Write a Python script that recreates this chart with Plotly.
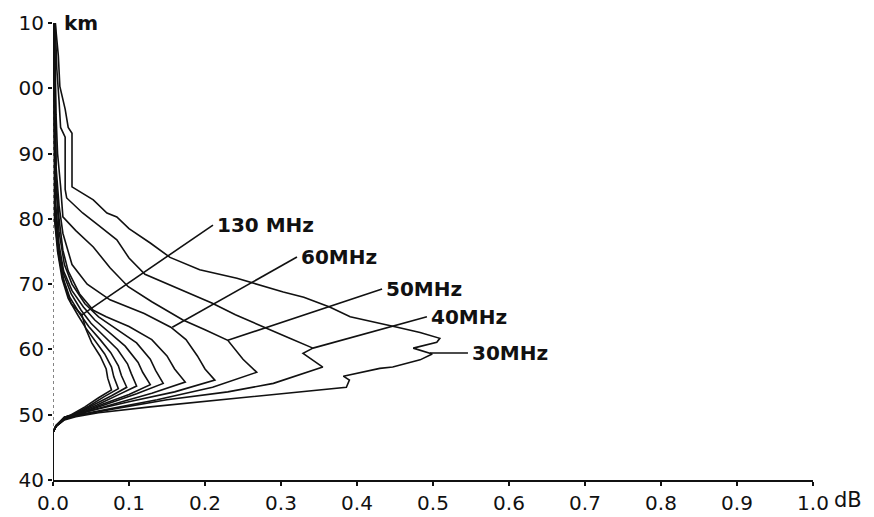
import plotly.graph_objects as go

# ---------------- data ----------------
x_ticks = [0.0, 0.1, 0.2, 0.3, 0.4, 0.5, 0.6, 0.7, 0.8, 0.9, 1.0]
x_ticktext = ["0.0", "0.1", "0.2", "0.3", "0.4", "0.5", "0.6", "0.7", "0.8", "0.9", "1.0"]
y_ticks = [40, 50, 60, 70, 80, 90, 100, 110]
y_ticktext = ["40", "50", "60", "70", "80", "90", "00", "10"]

# absorption (dB) vs height (km) for each frequency
x_30 = [0, 0, 0.004, 0.015, 0.03, 0.06, 0.128, 0.22, 0.325, 0.386, 0.39, 0.382, 0.43, 0.447, 0.483, 0.499,
        0.474, 0.505, 0.509, 0.483, 0.453, 0.42, 0.391, 0.364, 0.33, 0.303, 0.27, 0.242, 0.193, 0.154, 0.128,
        0.1, 0.084, 0.071, 0.053, 0.032, 0.025, 0.025, 0.02, 0.016, 0.009, 0.007, 0.003]
h_30 = [40, 47.3, 48.2, 49.2, 49.7, 50.3, 51.2, 52.3, 53.5, 54.2, 55.3, 55.9, 57.1, 57.3, 58.4, 59.3,
        60.2, 61.1, 61.7, 62.6, 63.4, 64.2, 65.0, 66.5, 68.0, 68.8, 70.0, 70.9, 72.2, 74.1, 76.3,
        78.5, 80.3, 80.9, 82.9, 84.4, 84.9, 93.1, 94.0, 96.8, 100.3, 105, 110]

x_40 = [0, 0, 0.004, 0.015, 0.03, 0.08, 0.15, 0.23, 0.29, 0.325, 0.355, 0.329, 0.342, 0.31, 0.279, 0.24,
        0.209, 0.16, 0.121, 0.1, 0.084, 0.06, 0.039, 0.018, 0.016, 0.016, 0.01, 0.008, 0.005, 0.003]
h_40 = [40, 47.3, 48.2, 49.3, 49.8, 50.9, 52.3, 53.5, 54.8, 56.1, 57.3, 59.4, 60.2, 61.8, 63.4, 65.3,
        67.1, 69.5, 71.5, 74, 76.8, 79, 80.9, 83.2, 84.5, 92.5, 94, 98, 103, 110]

x_50 = [0, 0, 0.004, 0.015, 0.03, 0.07, 0.137, 0.21, 0.268, 0.25, 0.24, 0.23, 0.2, 0.171, 0.13, 0.099,
        0.075, 0.053, 0.03, 0.013, 0.01, 0.006, 0.004, 0.002]
h_50 = [40, 47.3, 48.2, 49.3, 49.9, 50.8, 52.3, 54.2, 56.5, 58.5, 60, 61.4, 63, 64.5, 67.3, 69.6,
        72.5, 75.7, 78.2, 80.3, 85, 90, 96, 110]

x_60 = [0, 0, 0.004, 0.015, 0.045, 0.1, 0.16, 0.213, 0.2, 0.19, 0.175, 0.155, 0.12, 0.075, 0.045,
        0.025, 0.013, 0.008, 0.004, 0.002]
h_60 = [40, 47.3, 48.2, 49.4, 50.5, 52, 53.5, 55.3, 57, 59, 61.5, 63.4, 65.5, 67.6, 70,
        73, 77.8, 82, 88, 110]

x_70 = [0, 0, 0.004, 0.015, 0.04, 0.08, 0.13, 0.174, 0.16, 0.15, 0.13, 0.1, 0.07, 0.053, 0.035,
        0.02, 0.013, 0.008, 0.004, 0.001]
h_70 = [40, 47.3, 48.3, 49.5, 50.3, 51.6, 53.3, 55.0, 57, 59, 61.5, 63.5, 65, 66, 68.5,
        72, 75.2, 80, 86, 110]

x_80 = [0, 0, 0.004, 0.015, 0.035, 0.07, 0.11, 0.145, 0.135, 0.128, 0.11, 0.085, 0.06, 0.042, 0.025,
        0.015, 0.008, 0.004, 0.001]
h_80 = [40, 47.3, 48.3, 49.5, 50.2, 51.6, 53.2, 54.8, 56.8, 58.5, 61, 63, 65, 67, 70,
        73, 78, 85, 110]

x_90 = [0, 0, 0.004, 0.015, 0.033, 0.065, 0.1, 0.128, 0.118, 0.112, 0.095, 0.075, 0.055, 0.04, 0.025,
        0.014, 0.008, 0.003, 0.001]
h_90 = [40, 47.3, 48.3, 49.5, 50.1, 51.6, 53.1, 54.6, 56.5, 58, 60.5, 62.5, 64.5, 66.5, 69,
        72, 76, 83, 110]

x_100 = [0, 0, 0.004, 0.015, 0.03, 0.058, 0.085, 0.11, 0.103, 0.098, 0.085, 0.068, 0.05, 0.037, 0.024,
         0.014, 0.008, 0.003, 0.001]
h_100 = [40, 47.3, 48.3, 49.6, 50.1, 51.5, 53, 54.4, 56.3, 57.8, 60, 62, 64, 66, 68.5,
         71.5, 75, 82, 110]

x_110 = [0, 0, 0.004, 0.015, 0.028, 0.052, 0.077, 0.097, 0.09, 0.086, 0.076, 0.062, 0.047, 0.035, 0.022,
         0.013, 0.007, 0.003, 0.001]
h_110 = [40, 47.3, 48.3, 49.6, 50, 51.4, 52.9, 54.2, 56, 57.5, 59.5, 61.5, 63.5, 65.5, 68,
         71, 75, 81, 110]

x_120 = [0, 0, 0.004, 0.015, 0.026, 0.047, 0.068, 0.086, 0.08, 0.077, 0.068, 0.056, 0.043, 0.033, 0.02,
         0.012, 0.006, 0.002, 0.001]
h_120 = [40, 47.3, 48.3, 49.6, 50, 51.3, 52.8, 54.0, 55.8, 57.3, 59.3, 61.3, 63.3, 65.2, 67.8,
         70.8, 75, 80, 110]

x_130 = [0, 0, 0.004, 0.015, 0.024, 0.042, 0.06, 0.077, 0.072, 0.07, 0.062, 0.051, 0.043, 0.038, 0.024,
         0.015, 0.008, 0.003, 0.001]
h_130 = [40, 47.3, 48.3, 49.6, 50, 51.2, 52.6, 53.8, 55.6, 57, 59, 61, 63.2, 65.3, 67,
         70, 74, 79, 110]

# labelled curves: text, label anchor (dB, km), point on curve (dB, km)
label_text = ["130 MHz", "60MHz", "50MHz", "40MHz", "30MHz"]
label_x = [0.2105, 0.321, 0.433, 0.492, 0.546]
label_h = [79.05, 74.15, 69.25, 65.0, 59.45]
target_x = [0.038, 0.157, 0.23, 0.342, 0.496]
target_h = [65.3, 63.4, 61.4, 60.2, 59.45]

# ---------------- figure ----------------
curves = [("30 MHz", x_30, h_30), ("40 MHz", x_40, h_40), ("50 MHz", x_50, h_50),
          ("60 MHz", x_60, h_60), ("70 MHz", x_70, h_70), ("80 MHz", x_80, h_80),
          ("90 MHz", x_90, h_90), ("100 MHz", x_100, h_100), ("110 MHz", x_110, h_110),
          ("120 MHz", x_120, h_120), ("130 MHz", x_130, h_130)]

INK = "#111111"
FONT = "DejaVu Sans"

fig = go.Figure()
for name, xs, hs in curves:
    fig.add_trace(go.Scatter(x=xs, y=hs, mode="lines", name=name, showlegend=False,
                             hoverinfo="skip", line=dict(color=INK, width=1.6)))

shapes = [dict(type="line", xref="x", yref="y", x0=0, x1=0, y0=40, y1=110,
               line=dict(color="#333333", width=1.2, dash="dot"), layer="below")]
annotations = []
for t, lx, lh, tx, th in zip(label_text, label_x, label_h, target_x, target_h):
    shapes.append(dict(type="line", xref="x", yref="y", x0=tx, y0=th, x1=lx, y1=lh,
                       line=dict(color=INK, width=1.6)))
    annotations.append(dict(x=lx, y=lh, xref="x", yref="y", text=t, showarrow=False,
                            xanchor="left", yanchor="middle", xshift=2,
                            font=dict(family=FONT, size=20, color=INK, weight="bold")))

annotations.append(dict(x=0, y=110, xref="x", yref="y", text="km", showarrow=False,
                        xanchor="left", yanchor="middle", xshift=9,
                        font=dict(family=FONT, size=20, color=INK, weight="bold")))
annotations.append(dict(x=1.0, y=40, xref="x", yref="y", text="dB", showarrow=False,
                        xanchor="left", yanchor="middle", xshift=19, yshift=-20,
                        font=dict(family=FONT, size=21, color=INK)))

fig.update_layout(
    width=874, height=517,
    margin=dict(l=53, r=61, t=23, b=37),
    paper_bgcolor="white", plot_bgcolor="white",
    shapes=shapes, annotations=annotations,
    xaxis=dict(range=[0, 1], tickvals=x_ticks, ticktext=x_ticktext, showgrid=False,
               zeroline=False, showline=True, linecolor=INK, linewidth=2,
               ticks="outside", ticklen=4, tickwidth=1.5, tickcolor=INK,
               ticklabelstandoff=0, automargin=False,
               tickfont=dict(family=FONT, size=20, color=INK)),
    yaxis=dict(range=[40, 110], tickvals=y_ticks, ticktext=y_ticktext, showgrid=False,
               zeroline=False, showline=False, ticks="outside", ticklen=4,
               tickwidth=1.5, tickcolor=INK, automargin=False,
               tickfont=dict(family=FONT, size=20, color=INK)),
)

fig.write_html("out.html")
